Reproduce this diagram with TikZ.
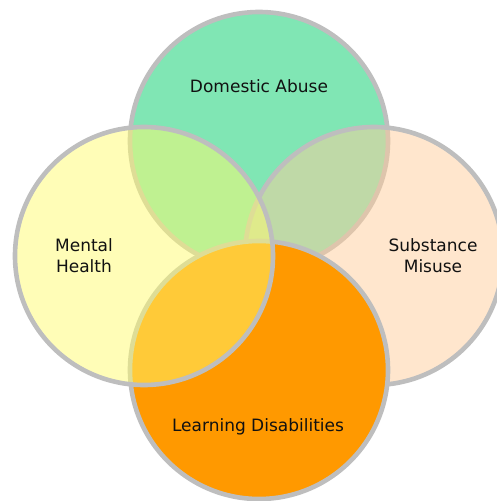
\documentclass[tikz,border=0pt]{standalone}
\usepackage{fontspec}
\setmainfont{DejaVu Sans}
\definecolor{edgegrey}{RGB}{190,190,190}
\definecolor{dagreen}{RGB}{128,230,180}
\definecolor{smpeach}{RGB}{255,205,155}
\definecolor{ldorange}{RGB}{255,153,0}
\definecolor{mhyellow}{RGB}{255,252,112}
\definecolor{labelblack}{RGB}{17,17,17}
\begin{document}
\begin{tikzpicture}[x=1pt,y=-1pt,
  setcircle/.style={circle, inner sep=0pt, minimum size=258pt, draw=edgegrey, line width=4.6pt},
  vlabel/.style={font=\fontsize{17}{21}\selectfont, text=labelblack, align=center, inner sep=0pt}]
\useasboundingbox (0,0) rectangle (497,501);
\node[setcircle, fill=dagreen] (T) at (259,141) {};
\node[setcircle, fill=smpeach, fill opacity=0.5] (R) at (374,256) {};
\node[setcircle, fill=ldorange] (B) at (259,370) {};
\node[setcircle, fill=mhyellow, fill opacity=0.5] (L) at (144,256) {};
\node[vlabel, anchor=base] (tDA) at (259,92.7) {Domestic Abuse};
\node[vlabel, anchor=base] (tMH) at (84,272.5) {Mental\\Health};
\node[vlabel, anchor=base] (tSM) at (433,272.5) {Substance\\Misuse};
\node[vlabel, anchor=base] (tLD) at (258,431) {Learning Disabilities};
\end{tikzpicture}
\end{document}
